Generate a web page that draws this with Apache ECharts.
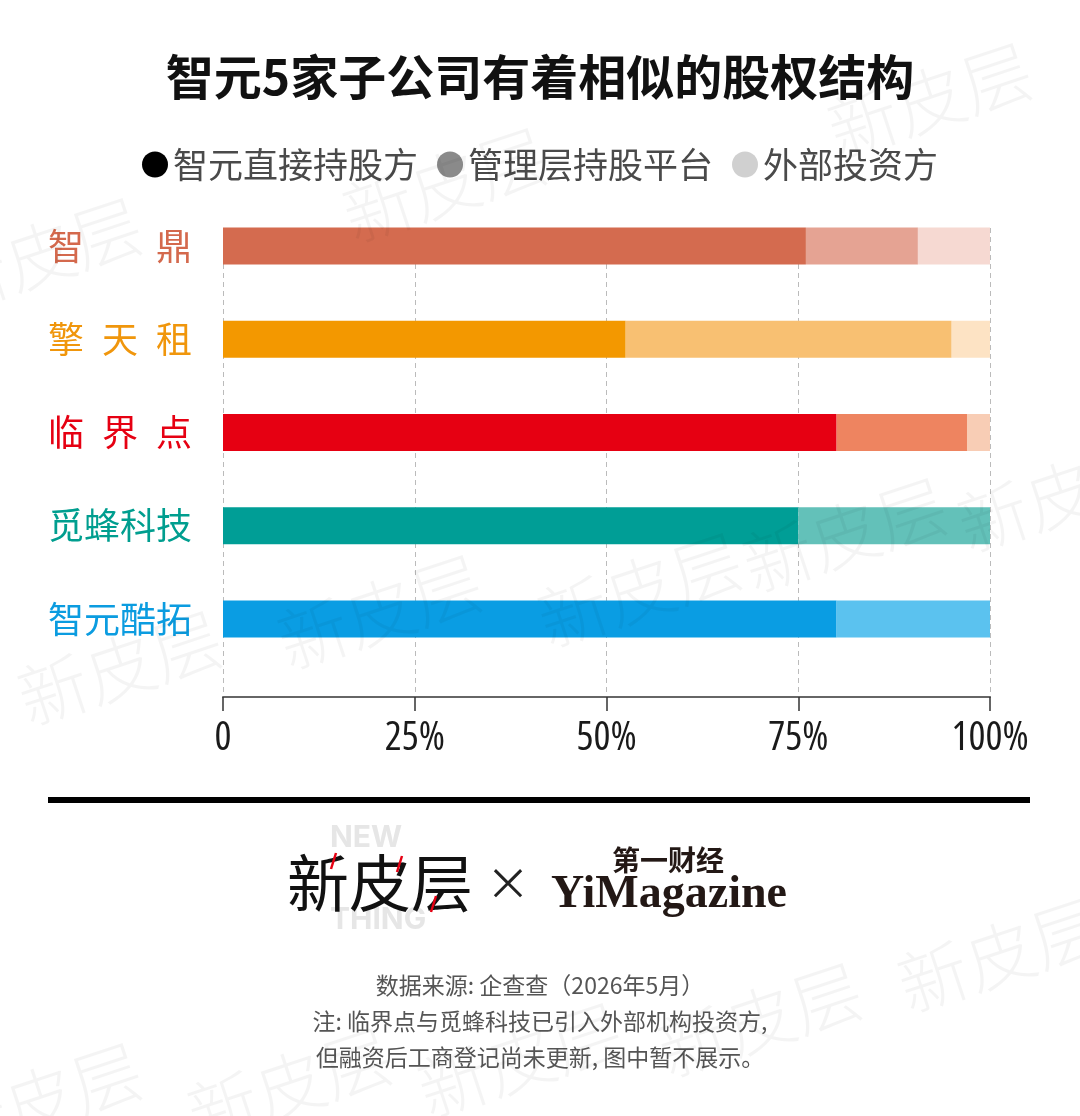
<!DOCTYPE html>
<html><head><meta charset="utf-8">
<script src="https://cdn.jsdelivr.net/npm/echarts@6/dist/echarts.min.js"></script>
<style>html,body{margin:0;padding:0;background:#fff}#c{width:1080px;height:1116px}</style>
</head><body><div id="c"></div>
<script>
// ---- data ----
const categories = ['智鼎', '擎天租', '临界点', '觅蜂科技', '智元酷拓'];
const seriesNames = ['智元直接持股方', '管理层持股平台', '外部投资方'];
const directShare = [76, 52.5, 80, 75, 80];
const managementShare = [14.6, 42.5, 17, 25, 20];
const externalShare = [9.4, 5, 3, 0, 0];
const tickLabels = ['0', '25%', '50%', '75%', '100%'];
const titleText = '智元5家子公司有着相似的股权结构';
const sourceLines = ['数据来源: 企查查（2026年5月）', '注: 临界点与觅蜂科技已引入外部机构投资方,', '但融资后工商登记尚未更新, 图中暂不展示。'];

// ---- styles ----
const categoryColors = ['#d4694d', '#f0960c', '#e60012', '#009e8f', '#0b9ce0'];
const directColors = ['#d46b4f', '#f39800', '#e60012', '#009e96', '#0a9de3'];
const mgmtColors = ['#e5a393', '#f8c072', '#ee8460', '#63c1b9', '#5bc2ef'];
const extColors = ['#f6d9d2', '#fde3c4', '#f8cdb5', '#e0f2f0', '#d6eefa'];
const legendColors = ['#000000', '#8a8a8a', '#d0d0d0'];
const shareSets = [directShare, managementShare, externalShare];
const colorSets = [directColors, mgmtColors, extColors];

const FONT = '"Noto Sans CJK SC", "Noto Sans", sans-serif';

function spaced(name) {
  const ch = name.split('');
  if (ch.length === 2) return ch.join('\u3000\u3000');
  if (ch.length === 3) return ch.join('\u2002');
  return name;
}

const series = seriesNames.map((nm, s) => ({
  name: nm,
  type: 'bar',
  stack: 'total',
  xAxisIndex: 0,
  yAxisIndex: 0,
  barWidth: 37,
  itemStyle: { color: legendColors[s] },
  emphasis: { disabled: true },
  data: shareSets[s].map((v, i) => ({ value: v, itemStyle: { color: colorSets[s][i] } }))
}));

// watermark positions (decoration)
const wm = [[930, 100], [445, 185], [40, 255], [380, 612], [120, 668], [845, 535], [1060, 495],
            [1000, 955], [290, 1085], [520, 1060], [760, 1020], [40, 1100], [640, 590]];

const graphics = [];
wm.forEach(p => graphics.push({
  type: 'text', x: p[0], y: p[1], rotation: 0.32, z: 100, silent: true,
  style: { text: '新皮层', fill: 'rgba(0,0,0,0.045)', font: '300 70px ' + FONT, textAlign: 'center', textVerticalAlign: 'middle' }
}));
graphics.push(
  { type: 'rect', shape: { x: 48, y: 797, width: 982, height: 6 }, style: { fill: '#000' } },
  { type: 'text', x: 330, y: 838, z: 1, style: { text: 'NEW', fill: '#e6e6e6', font: 'bold 30px Inter, sans-serif', textVerticalAlign: 'middle' } },
  { type: 'text', x: 330, y: 920, z: 1, style: { text: 'THING', fill: '#e6e6e6', font: 'bold 30px Inter, sans-serif', textVerticalAlign: 'middle' } },
  { type: 'text', x: 380, y: 883, z: 2, style: { text: '新皮层', fill: '#111', font: '62px ' + FONT, textAlign: 'center', textVerticalAlign: 'middle' } },
  { type: 'line', z: 3, shape: { x1: 336, y1: 853, x2: 331, y2: 869 }, style: { stroke: '#e60012', lineWidth: 2.5 } },
  { type: 'line', z: 3, shape: { x1: 402, y1: 856, x2: 397, y2: 872 }, style: { stroke: '#e60012', lineWidth: 2.5 } },
  { type: 'line', z: 3, shape: { x1: 436, y1: 896, x2: 431, y2: 912 }, style: { stroke: '#e60012', lineWidth: 2.5 } },
  { type: 'text', x: 508, y: 883, style: { text: '×', fill: '#222', font: '44px ' + FONT, textAlign: 'center', textVerticalAlign: 'middle' } },
  { type: 'text', x: 668, y: 860, style: { text: '第一财经', fill: '#231815', font: 'bold 28px ' + FONT, textAlign: 'center', textVerticalAlign: 'middle' } },
  { type: 'text', x: 669, y: 895, style: { text: 'YiMagazine', fill: '#231815', font: 'bold 46px "Liberation Serif", serif', textAlign: 'center', textVerticalAlign: 'middle' } }
);
sourceLines.forEach((t, i) => graphics.push({
  type: 'text', x: 540, y: 985 + i * 36,
  style: { text: t, fill: '#555', font: '23px ' + FONT, textAlign: 'center', textVerticalAlign: 'middle' }
}));

const chart = echarts.init(document.getElementById('c'), null, { renderer: 'canvas' });
chart.setOption({
  backgroundColor: '#fff',
  animation: false,
  title: {
    text: titleText, left: 'center', top: 48,
    textStyle: { fontSize: 48, fontWeight: 'bold', color: '#111', fontFamily: FONT }
  },
  legend: {
    top: 142, left: 'center', icon: 'circle', itemWidth: 26, itemHeight: 26, itemGap: 19,
    selectedMode: false,
    textStyle: { fontSize: 35, color: '#4a4a4a', fontFamily: FONT },
    data: seriesNames.map((n, i) => ({ name: n, itemStyle: { color: legendColors[i] } }))
  },
  grid: [
    { left: 223, right: 90, top: 199.4, height: 466.25 },
    { left: 223, right: 90, top: 228, bottom: 419 }
  ],
  xAxis: [
    { type: 'value', gridIndex: 0, min: 0, max: 100, show: false },
    {
      type: 'value', gridIndex: 1, min: 0, max: 100, interval: 25,
      axisLine: { show: true, lineStyle: { color: '#666', width: 2 } },
      axisTick: { show: true, length: 14, lineStyle: { color: '#333', width: 1.5 } },
      axisLabel: {
        margin: 22, fontSize: 40, color: '#1a1a1a',
        fontStyle: 'normal', fontWeight: '400 semi-condensed',
        fontFamily: '"Open Sans", "Noto Sans", sans-serif',
        formatter: (v) => tickLabels[Math.round(v / 25)]
      },
      splitLine: { show: true, lineStyle: { color: '#bbb', type: [5, 4], width: 1 } }
    }
  ],
  yAxis: [
    {
      type: 'category', gridIndex: 0, inverse: true, data: categories,
      axisLine: { show: false }, axisTick: { show: false },
      axisLabel: {
        margin: 31, fontSize: 36, fontFamily: FONT,
        color: (v, i) => categoryColors[categories.indexOf(v)],
        formatter: spaced
      }
    },
    { type: 'value', gridIndex: 1, show: false, splitLine: { show: false } }
  ],
  series: series,
  graphic: graphics
});
</script>
</body></html>
